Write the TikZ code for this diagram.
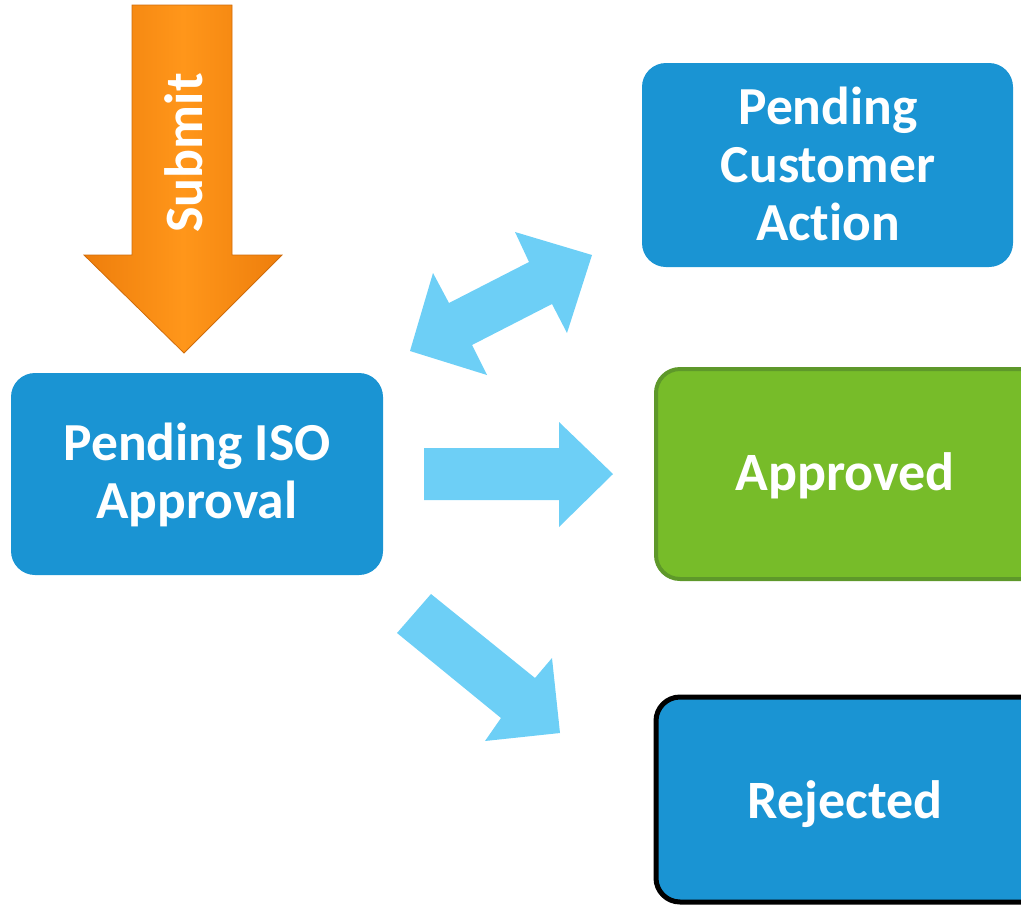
\documentclass[tikz,border=0pt]{standalone}
\usepackage{fontspec}
\setmainfont[Ligatures=NoCommon]{Carlito}
\begin{document}
\begin{tikzpicture}[x=1pt,y=-1pt,
  boxtxt/.style={text=white,font=\bfseries\fontsize{53.5}{58}\selectfont,align=center},
  bluebox/.style={fill=boxblue,draw=none,rounded corners=24pt},
  lightarrow/.style={fill=arrowblue,draw=none}]
\definecolor{boxblue}{HTML}{1A94D3}
\definecolor{arrowblue}{HTML}{6DCFF6}
\definecolor{okgreen}{HTML}{77BC29}
\definecolor{okgreenline}{HTML}{5E982A}
\definecolor{orangetop}{HTML}{FF961A}
\definecolor{orangebot}{HTML}{EE7E0C}
\definecolor{orangeline}{HTML}{D06C0A}
\useasboundingbox (0,0) rectangle (1021,906);
\clip (0,0) rectangle (1021,906);
% Submit arrow
\path[left color=orangebot,right color=orangebot,middle color=orangetop,draw=orangeline,line width=0.8pt]
  (132,5) -- (232,5) -- (232,255) -- (282,255) -- (184,353) -- (84,255) -- (132,255) -- cycle;
\node[boxtxt,rotate=90,font=\bfseries\fontsize{54}{60}\selectfont] (submit) at (184,153) {Submit};
% boxes
\path[bluebox] (11,373) rectangle (383,575);
\node[boxtxt] (iso) at (197,475) {Pending ISO\\Approval};
\path[bluebox] (642,63) rectangle (1013,267);
\node[boxtxt] (cust) at (828,164) {Pending\\Customer\\Action};
\path[fill=okgreen,draw=okgreenline,line width=4pt,rounded corners=24pt] (656,369) rectangle (1045,579);
\node[boxtxt,font=\bfseries\fontsize{54}{60}\selectfont] (appr) at (845,476) {Approved};
\path[fill=boxblue,draw=black,line width=5pt,rounded corners=24pt] (656,697) rectangle (1045,902);
\node[boxtxt,font=\bfseries\fontsize{54}{60}\selectfont] (rej) at (845,804) {Rejected};
% light blue arrows
\path[lightarrow] (592,255) -- (567,333) -- (552,304) -- (472,345) -- (487,375) -- (410,351)
  -- (433,273) -- (449,303) -- (529,262) -- (515,232) -- cycle;
\path[lightarrow] (424,448) -- (559,448) -- (559,422) -- (613,474) -- (559,527) -- (559,500) -- (424,500) -- cycle;
\path[lightarrow] (431,594) -- (535,678) -- (552,658) -- (560,733) -- (485,741) -- (501,718) -- (397,633) -- cycle;
\end{tikzpicture}
\end{document}
